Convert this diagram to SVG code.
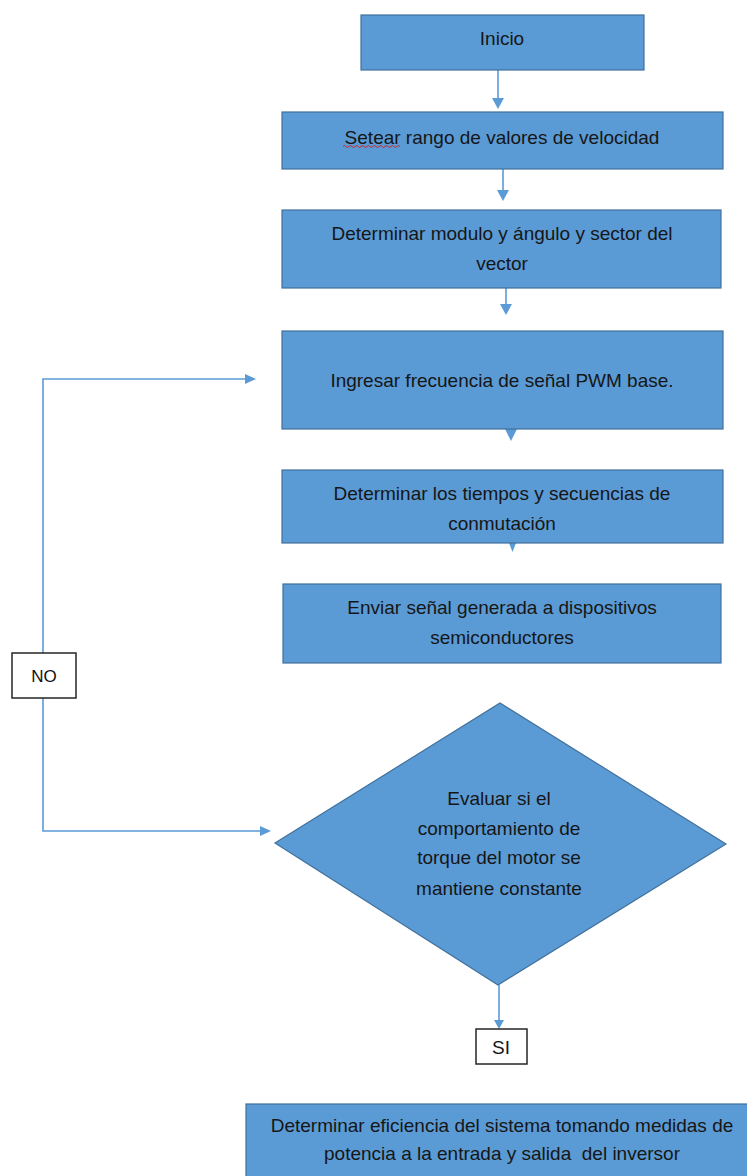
<svg xmlns="http://www.w3.org/2000/svg" width="747" height="1176" viewBox="0 0 747 1176">
  <defs>
    <style>
      .proc { fill: #5B9BD5; stroke: #41719C; stroke-width: 1.2; }
      .lbl { font-family: "Liberation Sans", Arial, sans-serif; font-size: 19px; fill: #161616; text-anchor: middle; }
      .tag { fill: #ffffff; stroke: #262626; stroke-width: 1.5; }
      .tagtxt { font-family: "Liberation Sans", Arial, sans-serif; font-size: 17px; fill: #111111; text-anchor: middle; }
      .wire { fill: none; stroke: #5B9BD5; stroke-width: 1.6; }
      .head { fill: #5B9BD5; }
    </style>
  </defs>
  <rect width="747" height="1176" fill="#ffffff"/>

  <!-- connectors -->
  <g id="connectors">
    <line class="wire" x1="498" y1="70" x2="498" y2="100"/>
    <path class="head" d="M492,98 L504,98 L498,109 Z"/>
    <line class="wire" x1="503" y1="169" x2="503" y2="192"/>
    <path class="head" d="M497,190 L509,190 L503,201 Z"/>
    <line class="wire" x1="506" y1="288" x2="506" y2="306"/>
    <path class="head" d="M500,304 L512,304 L506,315 Z"/>
    <path class="head" d="M505,429 L517,429 L511,441 Z"/>
    <path class="head" d="M509,543 L516,543 L512.5,552 Z"/>
    <line class="wire" x1="499" y1="985" x2="499" y2="1021"/>
    <path class="head" d="M494,1020 L504,1020 L499,1029 Z"/>
    <!-- NO loop back to the PWM step -->
    <polyline class="wire" points="43,653 43,379 248,379"/>
    <path class="head" d="M245,374 L256,379 L245,384 Z"/>
    <polyline class="wire" points="43,698 43,831 262,831"/>
    <path class="head" d="M260,826 L271,831 L260,836 Z"/>
  </g>

  <g id="inicio">
    <rect class="proc" x="361" y="15" width="283" height="55"/>
    <text class="lbl" x="502" y="44.5">Inicio</text>
  </g>

  <g id="setear">
    <rect class="proc" x="282" y="112" width="441" height="57"/>
    <text class="lbl" x="502" y="143.5">Setear rango de valores de velocidad</text>
    <path d="M343,146.5 q1.5,-2 3,0 t3,0 t3,0 t3,0 t3,0 t3,0 t3,0 t3,0 t3,0 t3,0 t3,0 t3,0 t3,0 t3,0 t3,0 t3,0 t3,0 t3,0 t3,0" fill="none" stroke="#d62020" stroke-width="1"/>
  </g>

  <g id="modulo">
    <rect class="proc" x="282" y="210" width="439" height="78"/>
    <text class="lbl" x="502" y="239.5">Determinar modulo y ángulo y sector del</text>
    <text class="lbl" x="502" y="269.5">vector</text>
  </g>

  <g id="frecuencia">
    <rect class="proc" x="282" y="331" width="441" height="98"/>
    <text class="lbl" x="502" y="386.5">Ingresar frecuencia de señal PWM base.</text>
  </g>

  <g id="tiempos">
    <rect class="proc" x="282" y="470" width="441" height="73"/>
    <text class="lbl" x="502" y="499.5">Determinar los tiempos y secuencias de</text>
    <text class="lbl" x="502" y="529.5">conmutación</text>
  </g>

  <g id="enviar">
    <rect class="proc" x="283" y="584" width="438" height="79"/>
    <text class="lbl" x="502" y="613.5">Enviar señal generada a dispositivos</text>
    <text class="lbl" x="502" y="643.5">semiconductores</text>
  </g>

  <g id="evaluar">
    <polygon class="proc" points="500,703 726,844 498,985 275,843"/>
    <text class="lbl" x="499" y="804.5">Evaluar si el</text>
    <text class="lbl" x="499" y="834.5">comportamiento de</text>
    <text class="lbl" x="499" y="863.5">torque del motor se</text>
    <text class="lbl" x="499" y="894.5">mantiene constante</text>
  </g>

  <g id="no-tag">
    <rect class="tag" x="12" y="653" width="64" height="45"/>
    <text class="tagtxt" x="44" y="682">NO</text>
  </g>

  <g id="si-tag">
    <rect class="tag" x="476" y="1029" width="51" height="35"/>
    <text class="lbl" x="501" y="1053.5">SI</text>
  </g>

  <g id="eficiencia">
    <rect class="proc" x="246" y="1104" width="510" height="80"/>
    <text class="lbl" x="502" y="1131.5">Determinar eficiencia del sistema tomando medidas de</text>
    <text class="lbl" x="502" y="1159.5" style="white-space:pre">potencia a la entrada y salida  del inversor</text>
  </g>
</svg>
